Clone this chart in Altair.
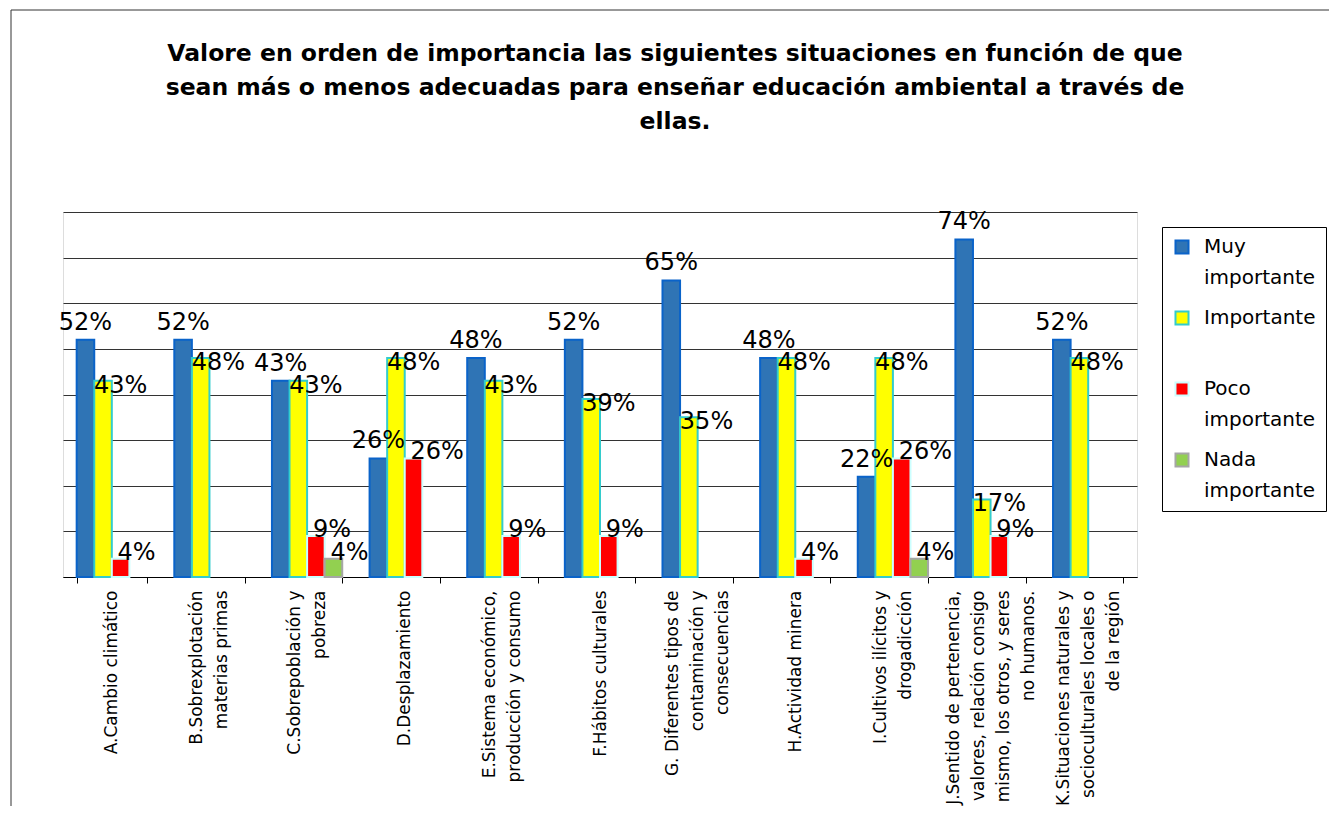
import altair as alt
import pandas as pd

categories = [
    "A.Cambio climático",
    "B.Sobrexplotación\nmaterias primas",
    "C.Sobrepoblación y\npobreza",
    "D.Desplazamiento",
    "E.Sistema económico,\nproducción y consumo",
    "F.Hábitos culturales",
    "G. Diferentes tipos de\ncontaminación y\nconsecuencias",
    "H.Actividad minera",
    "I.Cultivos ilícitos y\ndrogadicción",
    "J.Sentido de pertenencia,\nvalores, relación consigo\nmismo, los otros, y seres\nno humanos.",
    "K.Situaciones naturales y\nsocioculturales locales o\nde la región",
]
series = ["Muy importante", "Importante", "Poco importante", "Nada importante"]
muy_importante = [52, 52, 43, 26, 48, 52, 65, 48, 22, 74, 52]
importante = [43, 48, 43, 48, 43, 39, 35, 48, 48, 17, 48]
poco_importante = [4, 0, 9, 26, 9, 9, 0, 4, 26, 9, 0]
nada_importante = [0, 0, 4, 0, 0, 0, 0, 0, 4, 0, 0]
fill_colors = ["#2F74B5", "#FFFF00", "#FF0000", "#92D050"]
stroke_colors = ["#0A63C9", "#33CCCC", "#CCFFFF", "#A6A6A6"]
title_lines = [
    "Valore en orden de importancia las siguientes situaciones en función de que",
    "sean más o menos adecuadas para enseñar educación ambiental a través de",
    "ellas.",
]

rows = []
for s, vals in zip(series, [muy_importante, importante, poco_importante, nada_importante]):
    for c, v in zip(categories, vals):
        rows.append({"cat": c, "serie": s, "value": v})
df = pd.DataFrame(rows)

W, H = 1074, 365
FONT = "DejaVu Sans"
LH = 25  # axis label line height

legend = alt.Legend(
    title=None, orient="none", legendX=1099, legendY=15,
    labelExpr="indexof(datum.label, ' ') > 0 ? split(datum.label, ' ') : [datum.label, ' ']",
    symbolType="square", symbolSize=170, symbolStrokeWidth=2,
    labelFont=FONT, labelFontSize=20, labelColor="black",
    labelBaseline="middle", labelLimit=0, labelOffset=12,
    strokeColor="black", fillColor="white", padding=10, rowPadding=19,
)

nlines = "length(split(datum.label, '\\n'))"
label_offset = {
    "condition": [
        {"test": f"{nlines} == 2", "value": -LH / 2},
        {"test": f"{nlines} == 3", "value": -LH},
        {"test": f"{nlines} == 4", "value": -1.5 * LH},
    ],
    "value": 0,
}

x = alt.X(
    "cat:N", sort=categories, title=None,
    scale=alt.Scale(paddingInner=0.28, paddingOuter=0.14),
    axis=alt.Axis(
        labelAngle=270, labelAlign="right", labelBaseline="middle",
        labelExpr="split(datum.label, '\\n')", labelFont=FONT, labelFontSize=17,
        labelLineHeight=LH, labelColor="black", labelPadding=7, labelLimit=0,
        labelOffset=label_offset,
        labelOverlap=False, tickSize=6, tickColor="black", domainColor="black",
        tickBand="extent", grid=False,
    ),
)
y = alt.Y(
    "value:Q", title=None,
    scale=alt.Scale(domain=[0, 80], nice=False),
    axis=alt.Axis(values=list(range(0, 81, 10)), labels=False, ticks=False,
                  domain=False, grid=True, gridColor="#333333", gridWidth=1),
)
xoff = alt.XOffset("serie:N", sort=series, scale=alt.Scale(domain=series, paddingInner=0))

base = alt.Chart(df).transform_filter("datum.value > 0").transform_calculate(
    label="datum.value + '%'"
)

bars = base.mark_bar(strokeWidth=2).encode(
    x=x, y=y, xOffset=xoff,
    color=alt.Color("serie:N", sort=series, scale=alt.Scale(domain=series, range=fill_colors), legend=legend),
    stroke=alt.Stroke("serie:N", sort=series, scale=alt.Scale(domain=series, range=stroke_colors), legend=legend),
)

txt_style = dict(font=FONT, fontSize=24, color="black")
lbl_blue = base.transform_filter(f"datum.serie == '{series[0]}'").mark_text(
    align="center", baseline="bottom", dy=-5, **txt_style
).encode(x=x, y=y, xOffset=xoff, text="label:N")
lbl_yel = base.transform_filter(f"datum.serie == '{series[1]}'").mark_text(
    align="left", baseline="middle", dx=-9, dy=5, **txt_style
).encode(x=x, y=y, xOffset=xoff, text="label:N")
lbl_rest = base.transform_filter(
    f"datum.serie == '{series[2]}' || datum.serie == '{series[3]}'"
).mark_text(
    align="left", baseline="middle", dx=-3, dy=-6, **txt_style
).encode(x=x, y=y, xOffset=xoff, text="label:N")

frame_data = alt.Data(values=[{"k": 1}])
frame_v = alt.Chart(frame_data).mark_rule(color="#333333", strokeWidth=1).encode(
    x=alt.value(-52), y=alt.value(-202), y2=alt.value(H + 229)
)
frame_h = alt.Chart(frame_data).mark_rule(color="#333333", strokeWidth=1).encode(
    y=alt.value(-202), x=alt.value(-52), x2=alt.value(W + 192)
)

chart = alt.layer(bars, lbl_blue, lbl_yel, lbl_rest, frame_v, frame_h).properties(
    width=W, height=H,
    title=alt.TitleParams(
        text=title_lines, font=FONT, fontSize=23.5, fontWeight="bold", lineHeight=34,
        anchor="middle", frame="group", dx=75, offset=-124, color="black",
    ),
    autosize=alt.AutoSizeParams(type="none"),
    padding={"left": 55, "top": 204, "right": 192, "bottom": 229},
).configure_view(stroke=None).configure(
    background="white", style={"guide-label": {"lineHeight": 31}}
)

chart.save("out.html", embed_options={"renderer": "svg", "actions": False})
